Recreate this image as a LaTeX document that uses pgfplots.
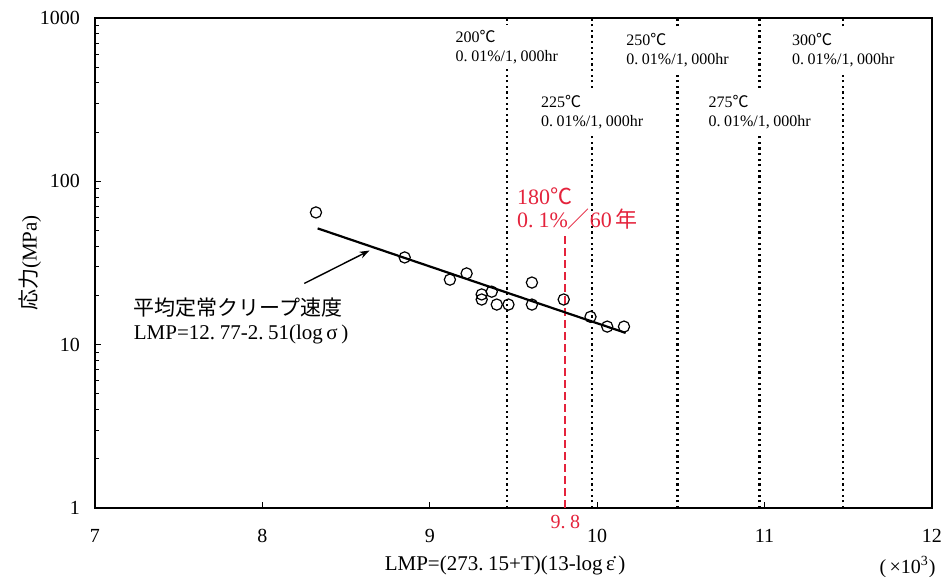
\documentclass[border=0pt]{standalone}
\usepackage{fontspec}
\setmainfont{Liberation Serif}
\newfontfamily\cjk{Noto Sans CJK JP}
\usepackage{pgfplots}
\pgfplotsset{compat=1.18}
\usetikzlibrary{arrows.meta}
\definecolor{myred}{RGB}{228,35,60}
\newcommand{\dC}{{\cjk ℃}}
\newcommand{\pp}{.\hspace{0.22em}}
\newcommand{\cm}{,\hspace{0.22em}}
\begin{document}
\begin{tikzpicture}
\path[use as bounding box] (-47.5pt,-34.5pt) rectangle (426.5pt,254pt);
\begin{axis}[
  at={(0,0)}, anchor=south west,
  scale only axis, width=418.5pt, height=245pt,
  xmin=7, xmax=12, ymode=log, ymin=1, ymax=1000,
  xtick={7,8,9,10,11,12}, xticklabels={7,8,9,10,11,12},
  ytick={1,10,100,1000}, yticklabels={1,10,100,1000},
  tick pos=left, tick align=inside,
  major tick length=3pt, minor tick length=2pt,
  axis line style={line width=1pt},
  every tick/.style={black, line width=0.5pt},
  xticklabel style={yshift=-7pt},
  yticklabel style={xshift=-4pt},
  clip=false,
]
% reference strain-rate lines
\tikzset{dl/.style={black, line width=1.1pt, dash pattern=on 1.1pt off 1.7pt}}
\addplot[dl] coordinates {(9.46,1) (9.46,1000)};
\addplot[dl] coordinates {(9.97,1) (9.97,1000)};
\addplot[dl] coordinates {(10.48,1) (10.48,1000)};
\addplot[dl] coordinates {(10.97,1) (10.97,1000)};
\addplot[dl] coordinates {(11.47,1) (11.47,1000)};
% 180C line
\addplot[myred, line width=1.1pt, dash pattern=on 4pt off 2pt] coordinates {(9.81,1) (9.81,47)};
% regression line
\addplot[black, line width=1.1pt] coordinates {(8.33,51.5) (10.17,11.8)};
% data
\addplot[only marks, mark=o, mark size=2.8pt, mark options={line width=0.6pt, black}] coordinates {
(8.32,64.5) (8.85,34.2) (9.12,25.0) (9.22,27.3) (9.31,20.3) (9.37,21.1)
(9.31,18.9) (9.40,17.6) (9.47,17.6) (9.61,24.0) (9.61,17.6) (9.80,18.9)
(9.96,14.8) (10.06,12.9) (10.16,12.9)};
% arrow
\addplot[black, line width=0.7pt, -{Stealth[length=5pt,width=3.5pt]}] coordinates {(8.25,23.7) (8.64,37.7)};
% labels of dotted lines
\tikzset{lbl/.style={fill=white, align=left, inner sep=2.5pt, font=\fontsize{8}{9.5}\selectfont}}
\node[lbl] at (axis cs:9.46,664) {200\dC\\0\pp01\%/1\cm000hr};
\node[lbl] at (axis cs:9.97,265) {225\dC\\0\pp01\%/1\cm000hr};
\node[lbl] at (axis cs:10.48,632) {250\dC\\0\pp01\%/1\cm000hr};
\node[lbl] at (axis cs:10.97,265) {275\dC\\0\pp01\%/1\cm000hr};
\node[lbl] at (axis cs:11.47,632) {300\dC\\0\pp01\%/1\cm000hr};
% red labels
\node[anchor=west, inner sep=0pt, text=myred, font=\fontsize{11}{13}\selectfont] at (axis cs:9.52,81) {180\dC};
\node[anchor=west, inner sep=0pt, text=myred, font=\fontsize{11}{13}\selectfont] at (axis cs:9.52,58.5) {0\pp1\%{\cjk ／}60\,{\cjk 年}};
\node[text=myred, inner sep=0pt, font=\fontsize{10}{12}\selectfont] at (axis cs:9.81,1) [yshift=-7pt] {9\pp8};
% annotation
\node[anchor=west, inner sep=0pt, font=\fontsize{10.5}{12}\selectfont] at (axis cs:7.23,16.9) {\cjk 平均定常クリープ速度};
\node[anchor=west, inner sep=0pt, font=\fontsize{10.5}{12}\selectfont] at (axis cs:7.23,11.5) {LMP=12\pp77-2\pp51(log\,σ\,)};
% axis labels
\node[inner sep=0pt, font=\fontsize{10.5}{12}\selectfont] at (axis cs:9.45,1) [yshift=-28.5pt] {LMP=(273\pp15+T)(13-log\,\.{ε}\,)};
\node[anchor=east, inner sep=0pt, font=\fontsize{10}{12}\selectfont] at (rel axis cs:1,0) [yshift=-29.5pt, xshift=2pt] {(\,×10\textsuperscript{3})};
\node[xshift=-32.5pt, rotate=90, inner sep=0pt, font=\fontsize{10.5}{12}\selectfont] at (rel axis cs:0,0.5) {{\cjk 応力}(MPa)};
\end{axis}
\end{tikzpicture}
\end{document}
